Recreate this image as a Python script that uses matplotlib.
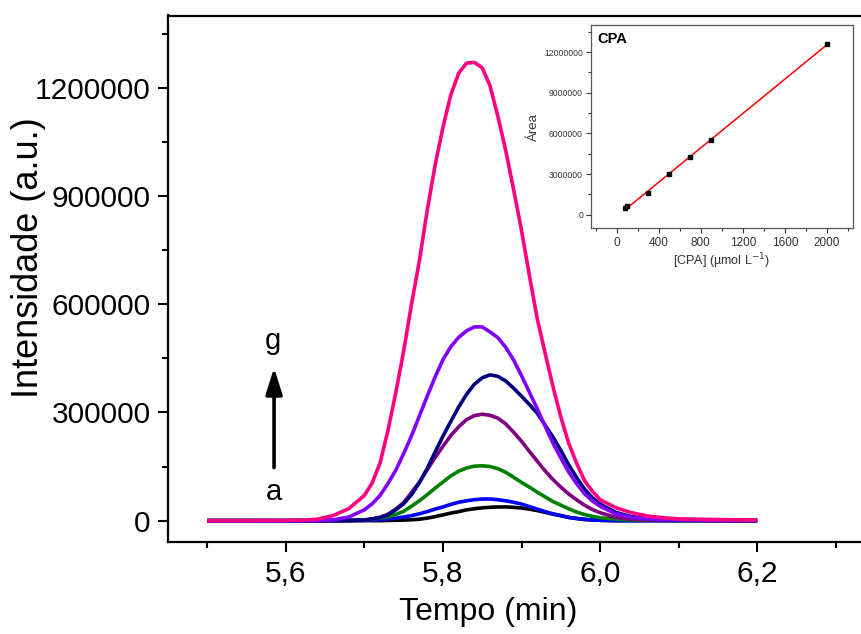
import matplotlib
matplotlib.use("Agg")
import matplotlib.pyplot as plt
import numpy as np
from matplotlib.ticker import MultipleLocator, FixedLocator

plt.rcParams['font.family'] = ['Liberation Sans', 'DejaVu Sans']

# ---------------- data (main chromatograms, intensities in thousands) ----------------
time_min = [5.50, 5.55, 5.60, 5.62, 5.64, 5.66, 5.68,
            5.70, 5.71, 5.72, 5.73, 5.74, 5.75, 5.76, 5.77, 5.78, 5.79,
            5.80, 5.81, 5.82, 5.83, 5.84, 5.85, 5.86, 5.87, 5.88, 5.89,
            5.90, 5.91, 5.92, 5.93, 5.94, 5.95, 5.96, 5.97, 5.98, 5.99,
            6.00, 6.02, 6.04, 6.06, 6.08, 6.10, 6.15, 6.20]

curve_a = [0, 0, 0, 0, 0, 0, 0,
           0, 0, 0, 0.5, 1, 1.5, 2.5, 4, 7, 11,
           16, 21, 25, 30, 33, 35.5, 37, 38, 38, 37,
           35, 32, 28, 23, 18, 14, 9, 6, 3, 2,
           1, 0, 0, 0, 0, 0, 0, 0]

curve_b = [0, 0, 0, 0, 0, 0, 0,
           1, 2, 3, 5, 7, 10, 14, 19, 25, 32,
           38, 45, 51, 55, 58, 60, 60, 58, 55, 51,
           46, 39, 32, 25, 19, 14, 9, 6, 4, 2,
           1, 0, 0, 0, 0, 0, 0, 0]

curve_c = [0, 0, 0, 0, 0, 0, 0.5,
           2, 4, 7, 11, 17, 26, 40, 55, 72, 90,
           107, 124, 137, 146, 151, 152, 150, 144, 134, 120,
           106, 93, 79, 66, 53, 43, 33, 24, 17, 12,
           8, 4, 2, 1, 0.5, 0, 0, 0]

curve_d = [0, 0, 0, 0, 0, 0, 0.5,
           2, 4, 9, 18, 32, 50, 78, 107, 141, 175,
           206, 236, 260, 280, 291, 295, 292, 284, 268, 245,
           220, 192, 165, 138, 114, 93, 74, 58, 43, 31,
           22, 9, 4, 2, 1, 0.5, 0, 0]

curve_e = [0, 0, 0, 0, 0, 0, 0.5,
           2, 5, 9, 16, 30, 47, 72, 105, 145, 190,
           234, 275, 315, 350, 378, 396, 404, 400, 387, 367,
           345, 322, 298, 265, 232, 195, 155, 120, 88, 64,
           46, 23, 11, 6, 3, 2, 1, 0.5]

curve_f = [0, 0, 0, 0, 0.5, 2, 10,
           30, 47, 70, 103, 140, 186, 235, 290, 345, 398,
           446, 482, 508, 526, 537, 537, 523, 507, 480, 445,
           402, 356, 310, 262, 215, 174, 135, 103, 75, 55,
           40, 19, 9, 5, 3, 2, 1, 1]

curve_g = [0, 0, 0.5, 1.5, 4, 14, 33,
           70, 105, 160, 250, 355, 470, 600, 720, 860, 985,
           1090, 1180, 1240, 1268, 1270, 1255, 1205, 1120, 1025, 917,
           805, 680, 560, 465, 372, 288, 215, 160, 112, 82,
           58, 36, 22, 13, 8, 5, 3, 2]

curve_colors = ['#000000', '#0000ff', '#008000', '#800080', '#000080', '#8000ff', '#ff0080']

# ---------------- data (inset calibration) ----------------
cpa_conc = [75, 100, 300, 500, 700, 900, 2000]
cpa_area = [500000, 650000, 1600000, 3000000, 4250000, 5480000, 12620000]

x_ticks = [5.6, 5.8, 6.0, 6.2]
x_ticklabels = ['5,6', '5,8', '6,0', '6,2']
y_ticks = [0, 300000, 600000, 900000, 1200000]
y_ticklabels = ['0', '300000', '600000', '900000', '1200000']
inset_xticks = [0, 400, 800, 1200, 1600, 2000]
inset_yticks = [0, 3000000, 6000000, 9000000, 12000000]
inset_yticklabels = ['0', '3000000', '6000000', '9000000', '12000000']

W, H = 861, 634
fig = plt.figure(figsize=(W / 100, H / 100), dpi=100)

# main axes: left 168px, right 875px (beyond edge), top 15.5px, bottom 542.3px
ax = fig.add_axes([168 / W, (H - 542.3) / H, (875 - 168) / W, (542.3 - 15.5) / H])

t = np.array(time_min)
for vals, col in zip([curve_a, curve_b, curve_c, curve_d, curve_e, curve_f, curve_g], curve_colors):
    ax.plot(t, np.array(vals) * 1000, color=col, lw=2.6, solid_joinstyle='round',
            solid_capstyle='butt')

ax.set_xlim(5.45, 6.35)
ax.set_ylim(-60000, 1400000)
ax.set_xticks(x_ticks)
ax.set_xticklabels(x_ticklabels)
ax.xaxis.set_minor_locator(FixedLocator([5.5, 5.7, 5.9, 6.1, 6.3]))
ax.set_yticks(y_ticks)
ax.set_yticklabels(y_ticklabels)
ax.yaxis.set_minor_locator(MultipleLocator(150000))
ax.tick_params(axis='both', which='major', length=7.5, width=1.5, labelsize=21.5, pad=5, direction='out')
ax.tick_params(axis='both', which='minor', length=4.5, width=1.5, direction='out')
ax.tick_params(axis='both', which='both', top=False, right=False)
for s in ['left', 'bottom', 'top']:
    ax.spines[s].set_linewidth(1.6)
ax.spines['right'].set_visible(False)

fig.text(488 / W, 1 - 612 / H, 'Tempo (min)', ha='center', va='center', fontsize=23)
fig.text(29 / W, 1 - 258 / H, 'Intensidade (a.u.)', ha='center', va='center', rotation=90, fontsize=26)

# arrow a -> g
ax.annotate('', xy=(5.585, 424000), xytext=(5.585, 147000),
            arrowprops=dict(arrowstyle='-|>,head_length=0.8,head_width=0.25', lw=2.6,
                            color='black', mutation_scale=20, shrinkA=0, shrinkB=0))
ax.text(5.583, 497000, 'g', ha='center', va='center', fontsize=21)
ax.text(5.585, 80000, 'a', ha='center', va='center', fontsize=21)

# ---------------- inset ----------------
axi = fig.add_axes([590.7 / W, (H - 228.3) / H, (853 - 590.7) / W, (228.3 - 25) / H])
coef = np.polyfit(cpa_conc, cpa_area, 1)
xf = np.array([min(cpa_conc), max(cpa_conc)])
axi.plot(xf, np.polyval(coef, xf), color='#ff0000', lw=1.1, zorder=2)
axi.plot(cpa_conc, cpa_area, 's', color='black', ms=3.2, zorder=3)
axi.set_xlim(-250, 2250)
axi.set_ylim(-1000000, 14000000)
axi.set_xticks(inset_xticks)
axi.xaxis.set_minor_locator(MultipleLocator(200))
axi.set_yticks(inset_yticks)
axi.set_yticklabels(inset_yticklabels)
axi.yaxis.set_minor_locator(MultipleLocator(1500000))
axi.tick_params(axis='x', which='major', labelsize=8.5, length=3.5, width=0.8, pad=2.5, colors='#333333')
axi.tick_params(axis='y', which='major', labelsize=6.2, length=3.5, width=0.8, pad=2, colors='#333333')
axi.tick_params(axis='both', which='minor', length=2, width=0.8, colors='#333333')
for s in axi.spines.values():
    s.set_linewidth(0.9)
    s.set_color('#555555')
axi.set_xlabel('[CPA] (µmol L$^{-1}$)', fontsize=9, labelpad=2, color='#333333')
axi.set_ylabel('Área', fontsize=9.5, labelpad=3, color='#333333')
axi.text(0.025, 0.93, 'CPA', transform=axi.transAxes, ha='left', va='center',
         fontsize=10.5, fontweight='bold')

fig.savefig('out.png', dpi=100)
